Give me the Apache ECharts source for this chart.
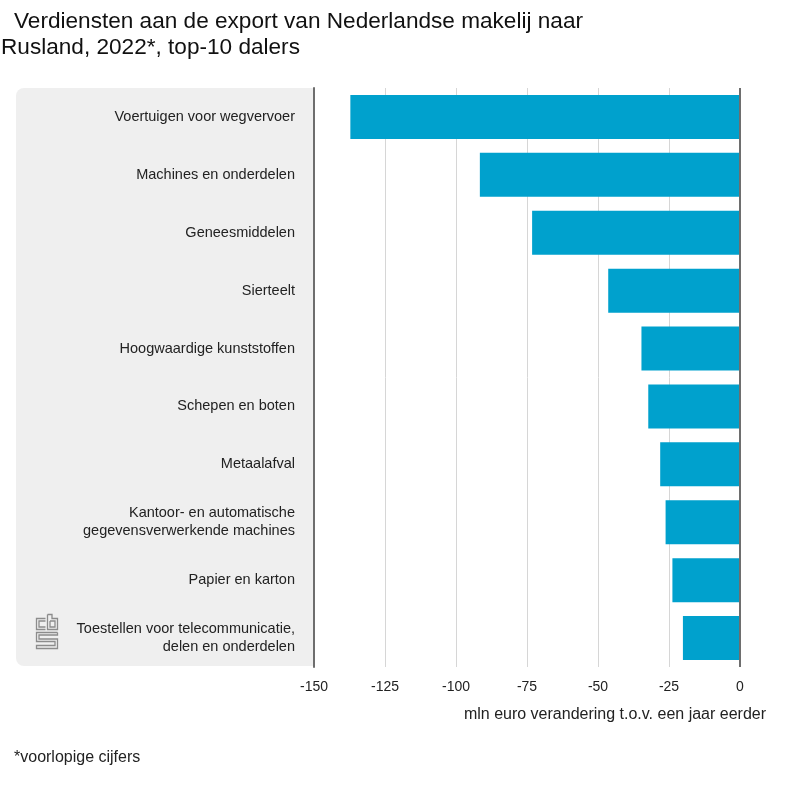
<!DOCTYPE html>
<html>
<head>
<meta charset="utf-8">
<script src="https://cdn.jsdelivr.net/npm/echarts@6/dist/echarts.min.js"></script>
<style>html,body{margin:0;padding:0;background:#fff}#c{width:800px;height:800px}</style>
</head>
<body>
<div id="c"></div>
<script>
const categories = [
  'Voertuigen voor wegvervoer',
  'Machines en onderdelen',
  'Geneesmiddelen',
  'Sierteelt',
  'Hoogwaardige kunststoffen',
  'Schepen en boten',
  'Metaalafval',
  'Kantoor- en automatische\ngegevensverwerkende machines',
  'Papier en karton',
  'Toestellen voor telecommunicatie,\ndelen en onderdelen'
];
const values = [-137.2, -91.6, -73.2, -46.4, -34.7, -32.3, -28.1, -26.2, -23.8, -20.1];
const xTicks = [-150, -125, -100, -75, -50, -25, 0];
const titleLines = ['Verdiensten aan de export van Nederlandse makelij naar', 'Rusland, 2022*, top-10 dalers'];
const axisTitle = 'mln euro verandering t.o.v. een jaar eerder';
const footnote = '*voorlopige cijfers';

const font = 'Arial, "Liberation Sans", sans-serif';
const chart = echarts.init(document.getElementById('c'), null, {renderer: 'canvas'});
const logoColor = '#8c8c8c';
const ls = {stroke: logoColor, lineWidth: 1.3, fill: null};
chart.setOption({
  animation: false,
  backgroundColor: '#ffffff',
  grid: {left: 314, right: 60, top: 88, bottom: 133, containLabel: false},
  xAxis: {
    type: 'value', min: xTicks[0], max: xTicks[xTicks.length - 1], interval: 25,
    axisLine: {show: false}, axisTick: {show: false},
    axisLabel: {color: '#222', fontFamily: font, fontSize: 14, margin: 13},
    splitLine: {show: true, lineStyle: {color: '#d6d6d6', width: 1}}
  },
  yAxis: {
    type: 'category', data: categories, inverse: true,
    axisLine: {show: true, onZero: false, lineStyle: {color: '#6e6e6e', width: 2}},
    axisTick: {show: false},
    axisLabel: {color: '#222', fontFamily: font, fontSize: 14.5, margin: 19, lineHeight: 18, align: 'right'}
  },
  series: [{
    type: 'bar', data: values, barCategoryGap: '24%',
    itemStyle: {color: '#00a1cd'},
    markLine: {
      silent: true, symbol: 'none', label: {show: false},
      lineStyle: {color: '#6e6e6e', width: 2, type: 'solid'},
      data: [{xAxis: 0}]
    }
  }],
  graphic: [
    {type: 'rect', z: -10, shape: {x: 16, y: 88, width: 298, height: 578, r: [8, 0, 0, 8]}, style: {fill: '#efefef'}},
    {type: 'text', left: 14, top: 10, style: {text: titleLines[0], font: '22.6px ' + font, fill: '#111'}},
    {type: 'text', left: 1, top: 36, style: {text: titleLines[1], font: '22.6px ' + font, fill: '#111'}},
    {type: 'text', right: 34, top: 707, style: {text: axisTitle, font: '16px ' + font, fill: '#222'}},
    {type: 'text', left: 14, top: 750, style: {text: footnote, font: '16px ' + font, fill: '#222'}},
    {type: 'group', left: 34, top: 612, children: [
      {type: 'polyline', shape: {points: [[10,4],[1,4],[1,15],[10,15]]}, style: ls},
      {type: 'polyline', shape: {points: [[10,6.5],[3.5,6.5],[3.5,12.5],[10,12.5]]}, style: ls},
      {type: 'polyline', shape: {points: [[12,0],[12,15],[22,15],[22,4],[16.5,4],[16.5,0],[12,0]]}, style: ls},
      {type: 'polyline', shape: {points: [[14.5,6.5],[19.5,6.5],[19.5,12.5],[14.5,12.5],[14.5,6.5]]}, style: ls},
      {type: 'polyline', shape: {points: [[22,18],[1,18],[1,27],[19.5,27],[19.5,31],[1,31],[1,34],[22,34],[22,24.5],[3.5,24.5],[3.5,20.5],[22,20.5],[22,18]]}, style: ls}
    ]}
  ]
});
</script>
</body>
</html>
